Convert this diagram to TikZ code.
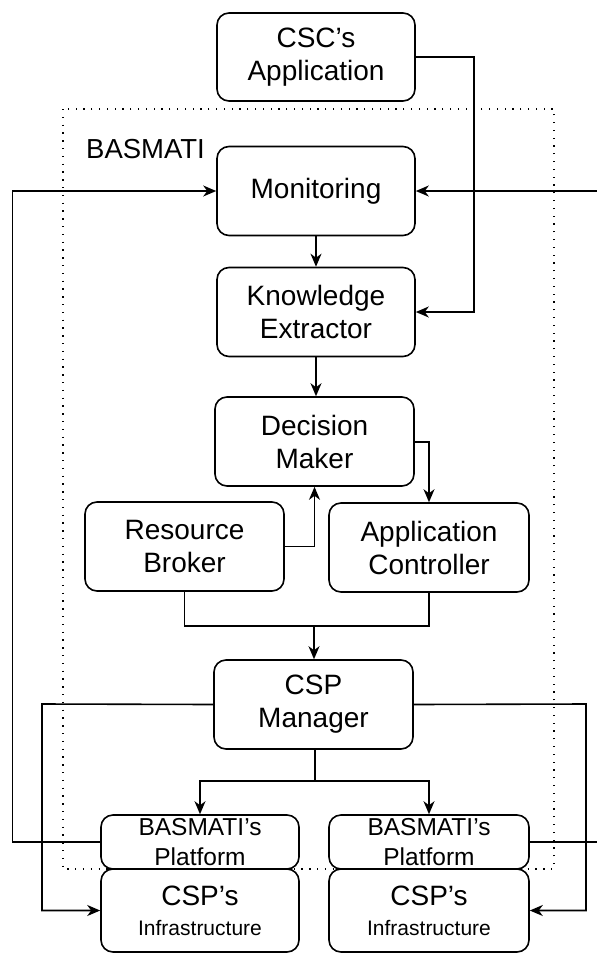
\documentclass[tikz,border=0pt]{standalone}
\usepackage{fontspec}
\setmainfont{Liberation Sans}
\usetikzlibrary{arrows.meta}
\begin{document}
\begin{tikzpicture}[x=1pt,y=-1pt,
  box/.style={draw, line width=1.6pt, rounded corners=12pt, align=center,
    inner sep=0pt, font=\fontsize{28}{33}\selectfont},
  line/.style={line width=1.6pt},
  arr/.style={line width=1.6pt, -{Stealth[length=13pt,width=11pt,inset=4pt]}},
  lbl/.style={inner sep=0pt}]
\useasboundingbox (0,0) rectangle (597,956);
% dotted BASMATI boundary
\draw[line width=1.3pt, dash pattern=on 1.3pt off 6.5pt] (63,109) rectangle (554,869);
\node[lbl, anchor=west, font=\fontsize{27.5}{33}\selectfont] (bas) at (86,149) {BASMATI};
% nodes
\node[box, minimum width=198pt, minimum height=88pt] (csc) at (316,57) {CSC's\\Application};
\node[box, minimum width=198pt, minimum height=89pt] (mon) at (316,191) {Monitoring};
\node[box, minimum width=198pt, minimum height=89pt] (ke) at (316,312) {Knowledge\\Extractor};
\node[box, minimum width=199pt, minimum height=89pt] (dm) at (314.5,441.5) {Decision\\Maker};
\node[box, minimum width=199pt, minimum height=89pt] (rb) at (184.5,546.5) {Resource\\Broker};
\node[box, minimum width=200pt, minimum height=89pt] (ac) at (429,547.5) {Application\\Controller};
\node[box, minimum width=199pt, minimum height=89pt] (cspm) at (313.5,704.5) {CSP\\Manager};
\node[box, minimum width=198pt, minimum height=83pt, font=\fontsize{28}{30}\selectfont] (infL) at (200,910.5) {CSP's\\{\fontsize{21}{26}\selectfont Infrastructure}};
\node[box, minimum width=200pt, minimum height=83pt, font=\fontsize{28}{30}\selectfont] (infR) at (429,910.5) {CSP's\\{\fontsize{21}{26}\selectfont Infrastructure}};
\node[box, minimum width=198pt, minimum height=54pt, font=\fontsize{24.5}{30}\selectfont] (plL) at (200,842) {BASMATI's\\Platform};
\node[box, minimum width=200pt, minimum height=54pt, font=\fontsize{24.5}{30}\selectfont] (plR) at (429,842) {BASMATI's\\Platform};
% junction coordinates
\coordinate (j1) at (314,626);
\coordinate (j2) at (315,781);
\coordinate (lx) at (12.5,842);
\coordinate (rx) at (600,842);
\coordinate (cx) at (474,57);
\coordinate (ml) at (42,704);
\coordinate (mr) at (586,704);
% connectors
\draw[arr] (csc.east) -- (cx) |- (ke.east);
\draw[arr] (mon.south) -- (ke.north -| mon.south);
\draw[arr] (ke.south) -- (dm.north -| ke.south);
\draw[arr] (dm.east |- 0,442) -| (ac.north);
\draw[arr] (rb.east) -| (dm.south);
\draw[line] (rb.south) |- (j1) -| (ac.south);
\draw[arr] (j1) -- (cspm.north -| j1);
\draw[line] (cspm.south -| j2) -- (j2);
\draw[arr] (j2) -| (plL.north);
\draw[arr] (j2) -| (plR.north);
\draw[arr] (plL.west) -- (lx) |- (mon.west);
\draw[arr] (plR.east) -- (rx) |- (mon.east);
\draw[arr] (cspm.west) -- (ml) |- (infL.west);
\draw[arr] (cspm.east) -- (mr) |- (infR.east);
\end{tikzpicture}
\end{document}
